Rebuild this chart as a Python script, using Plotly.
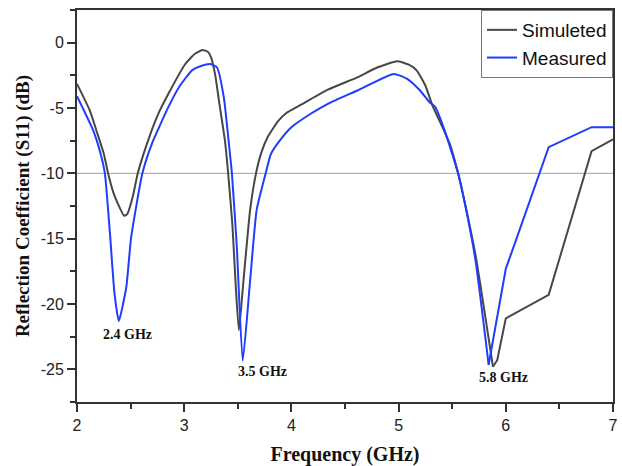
import plotly.graph_objects as go

# Simulated S11
sim_freq = [2.00, 2.12, 2.18, 2.25, 2.29, 2.34, 2.38, 2.44, 2.47, 2.52, 2.567, 2.65, 2.75, 2.86,
            3.01, 3.10, 3.17, 3.22, 3.25, 3.29, 3.32, 3.38, 3.41, 3.45, 3.48, 3.51, 3.553, 3.615,
            3.67, 3.72, 3.78, 3.876, 3.95, 4.09, 4.34, 4.615, 4.80, 4.985, 5.10, 5.17, 5.25, 5.32, 5.40,
            5.48, 5.555, 5.65, 5.725, 5.80, 5.88, 5.92, 6.00, 6.40, 6.80, 7.00]
sim_s11 = [-3.15, -5.2, -6.7, -8.5, -10.0, -11.5, -12.3, -13.25, -13.1, -11.8, -10.0, -7.8, -5.6, -3.8,
           -1.63, -0.85, -0.56, -0.7, -1.1, -2.5, -4.2, -7.5, -10.0, -14.0, -18.5, -22.0, -18.2, -12.8,
           -10.0, -8.4, -7.2, -6.0, -5.4, -4.75, -3.6, -2.65, -1.9, -1.43, -1.7, -2.14, -3.3, -4.9, -6.3,
           -7.8, -10.0, -13.5, -16.6, -20.5, -24.8, -24.3, -21.1, -19.3, -8.3, -7.4]

# Measured S11
meas_freq = [2.00, 2.15, 2.22, 2.26, 2.305, 2.35, 2.39, 2.46, 2.505, 2.61, 2.70, 2.86, 2.96, 3.075,
             3.15, 3.245, 3.306, 3.37, 3.414, 3.445, 3.49, 3.546, 3.615, 3.676, 3.76, 3.81, 3.90, 4.00,
             4.18, 4.34, 4.615, 4.955, 5.08, 5.20, 5.29, 5.34, 5.42, 5.48, 5.555, 5.65, 5.72, 5.84, 5.956,
             6.00, 6.10, 6.40, 6.80, 7.00]
meas_s11 = [-4.1, -6.7, -8.5, -10.0, -14.35, -19.2, -21.3, -18.7, -14.9, -10.0, -7.7, -4.8, -3.3, -2.1,
            -1.8, -1.63, -1.9, -4.2, -7.5, -10.0, -15.5, -24.35, -18.2, -12.8, -10.0, -8.5, -7.4, -6.47,
            -5.44, -4.68, -3.66, -2.39, -2.77, -3.66, -4.56, -4.9, -6.5, -8.0, -10.0, -13.6, -16.8, -24.65, -19.4,
            -17.3, -15.0, -8.0, -6.47, -6.47]

# index where each curve switches from a smooth sweep to straight measured segments
sim_split = sim_freq.index(5.88)
meas_split = meas_freq.index(5.84)

x_ticks = [2, 3, 4, 5, 6, 7]
x_tick_text = ["2", "3", "4", "5", "6", "7"]
y_ticks = [0, -5, -10, -15, -20, -25]
y_tick_text = ["0", "-5", "-10", "-15", "-20", "-25"]

ann_text = ["2.4 GHz", "3.5 GHz", "5.8 GHz"]
ann_x = [2.47, 3.728, 5.983]
ann_y = [-22.37, -25.17, -25.63]

SIM_COLOR = "#474747"
MEAS_COLOR = "#1f3cff"

fig = go.Figure()
fig.add_trace(go.Scatter(x=sim_freq[:sim_split + 1], y=sim_s11[:sim_split + 1], mode="lines",
                         name="Simuleted", legendgroup="sim",
                         line=dict(color=SIM_COLOR, width=2, shape="spline", smoothing=0.5)))
fig.add_trace(go.Scatter(x=sim_freq[sim_split:], y=sim_s11[sim_split:], mode="lines",
                         name="Simuleted", legendgroup="sim", showlegend=False,
                         line=dict(color=SIM_COLOR, width=2)))
fig.add_trace(go.Scatter(x=meas_freq[:meas_split + 1], y=meas_s11[:meas_split + 1], mode="lines",
                         name="Measured", legendgroup="meas",
                         line=dict(color=MEAS_COLOR, width=2, shape="spline", smoothing=0.5)))
fig.add_trace(go.Scatter(x=meas_freq[meas_split:], y=meas_s11[meas_split:], mode="lines",
                         name="Measured", legendgroup="meas", showlegend=False,
                         line=dict(color=MEAS_COLOR, width=2)))

fig.add_shape(type="line", xref="paper", x0=0, x1=1, yref="y", y0=-10, y1=-10,
              line=dict(color="#a0a0a0", width=1), layer="below")

for t, ax, ay in zip(ann_text, ann_x, ann_y):
    fig.add_annotation(x=ax, y=ay, text="<b>" + t + "</b>", showarrow=False,
                       font=dict(family="Liberation Serif", size=14, color="#111111"))

axis_common = dict(showline=True, linecolor="#333333", linewidth=2, mirror=True,
                   ticks="outside", ticklen=8, tickwidth=1.5, tickcolor="#333333",
                   showgrid=False, zeroline=False,
                   tickfont=dict(family="Liberation Sans", size=16, color="#222222"))

fig.update_layout(
    width=622, height=466,
    margin=dict(l=77, r=4, t=10, b=64),
    plot_bgcolor="white", paper_bgcolor="white",
    showlegend=True,
    legend=dict(x=1, y=1, xanchor="right", yanchor="top",
                bordercolor="#777777", borderwidth=1, bgcolor="white",
                font=dict(family="Liberation Sans", size=19, color="#111111"),
                tracegroupgap=0),
    xaxis=dict(range=[2, 7], tickvals=x_ticks, ticktext=x_tick_text,
               minor=dict(dtick=0.5, ticks="outside", ticklen=5, tickcolor="#333333"),
               title=dict(text="<b>Frequency (GHz)</b>",
                          font=dict(family="Liberation Serif", size=20, color="#111111"),
                          standoff=14),
               **axis_common),
    yaxis=dict(range=[-27.5, 2.5], tickvals=y_ticks, ticktext=y_tick_text,
               minor=dict(dtick=2.5, tick0=0, ticks="outside", ticklen=5, tickcolor="#333333"),
               title=dict(text="<b>Reflection Coefficient (S11) (dB)</b>",
                          font=dict(family="Liberation Serif", size=19, color="#111111"),
                          standoff=6),
               **axis_common),
)

fig.write_html("out.html", config={"displayModeBar": False})

# remove default page margin so the figure sits at the window's top-left corner
with open("out.html", "r", encoding="utf-8") as f:
    html = f.read()
html = html.replace("<head>", "<head><style>html,body{margin:0;padding:0;overflow:hidden;}</style>", 1)
with open("out.html", "w", encoding="utf-8") as f:
    f.write(html)
